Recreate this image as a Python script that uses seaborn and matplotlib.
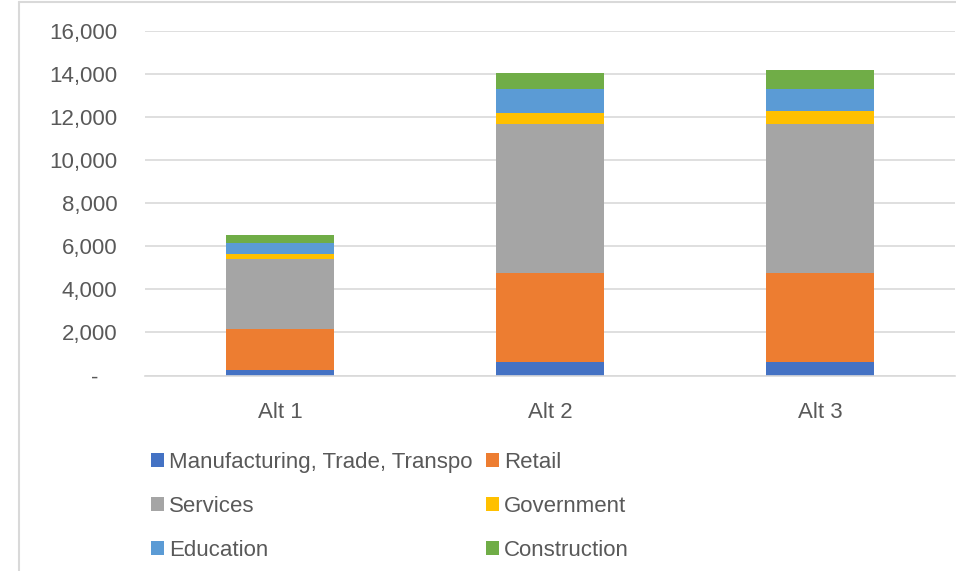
import matplotlib
matplotlib.use("Agg")
import matplotlib.pyplot as plt
from matplotlib.lines import Line2D
from matplotlib.ticker import FuncFormatter
import numpy as np
import pandas as pd
import seaborn as sns

categories = ["Alt 1", "Alt 2", "Alt 3"]
series_names = ["Manufacturing, Trade, Transpo", "Retail", "Services",
                "Government", "Education", "Construction"]
manufacturing = [260, 630, 630]
retail = [1880, 4140, 4140]
services = [3250, 6900, 6900]
government = [250, 510, 620]
education = [530, 1120, 1010]
construction = [370, 770, 870]
yticks = [0, 2000, 4000, 6000, 8000, 10000, 12000, 14000, 16000]

colors = ["#4472C4", "#ED7D31", "#A5A5A5", "#FFC000", "#5B9BD5", "#70AD47"]
series_values = [manufacturing, retail, services, government, education, construction]

sns.set_theme(style="white")
plt.rcParams["font.family"] = ["Liberation Sans", "DejaVu Sans"]

fig = plt.figure(figsize=(9.56, 5.71), dpi=100)
ax = fig.add_axes([145 / 956, 1 - 375.5 / 571, 810 / 956, (375.5 - 31) / 571])

bottom = np.zeros(len(categories))
for name, vals, col in zip(series_names, series_values, colors):
    df = pd.DataFrame({"cat": categories, "val": vals})
    sns.barplot(data=df, x="cat", y="val", ax=ax, color=col, width=0.4,
                bottom=bottom.copy(), linewidth=0, saturation=1, label=name,
                order=categories)
    bottom += np.array(vals, dtype=float)

if ax.get_legend() is not None:
    ax.get_legend().remove()

ax.set_xlim(-0.5, 2.5)
ax.set_ylim(0, 16000)
ax.set_yticks(yticks)
ax.yaxis.set_major_formatter(FuncFormatter(lambda v, p: "-   " if v == 0 else f"{int(v):,}"))
ax.grid(axis="y", color="#d9d9d9", linewidth=1.2)
ax.set_axisbelow(True)
for s in ["top", "right", "left"]:
    ax.spines[s].set_visible(False)
ax.spines["bottom"].set_color("#d9d9d9")
ax.spines["bottom"].set_linewidth(1.2)
ax.set_xlabel("")
ax.set_ylabel("")
ax.tick_params(axis="y", length=0, pad=20, labelsize=16, labelcolor="#595959")
ax.tick_params(axis="x", length=0, pad=19, labelsize=16, labelcolor="#595959")

h, l = ax.get_legend_handles_labels()
order = [0, 2, 4, 1, 3, 5]
leg = fig.legend([h[i] for i in order], [l[i] for i in order], ncol=2,
                 loc="upper left", bbox_to_anchor=(151 / 956, 1 - 452 / 571),
                 frameon=False, fontsize=16, borderpad=0, borderaxespad=0,
                 handlelength=0.6, handleheight=0.6, handletextpad=0.2,
                 columnspacing=0.62, labelspacing=1.03, labelcolor="#595959")

fig.add_artist(Line2D([18.5 / 956, 18.5 / 956], [0, 1 - 1.5 / 571], color="#d9d9d9", lw=1.5))
fig.add_artist(Line2D([18.5 / 956, 1], [1 - 1.5 / 571, 1 - 1.5 / 571], color="#d9d9d9", lw=1.5))

fig.savefig("out.png", dpi=100)
